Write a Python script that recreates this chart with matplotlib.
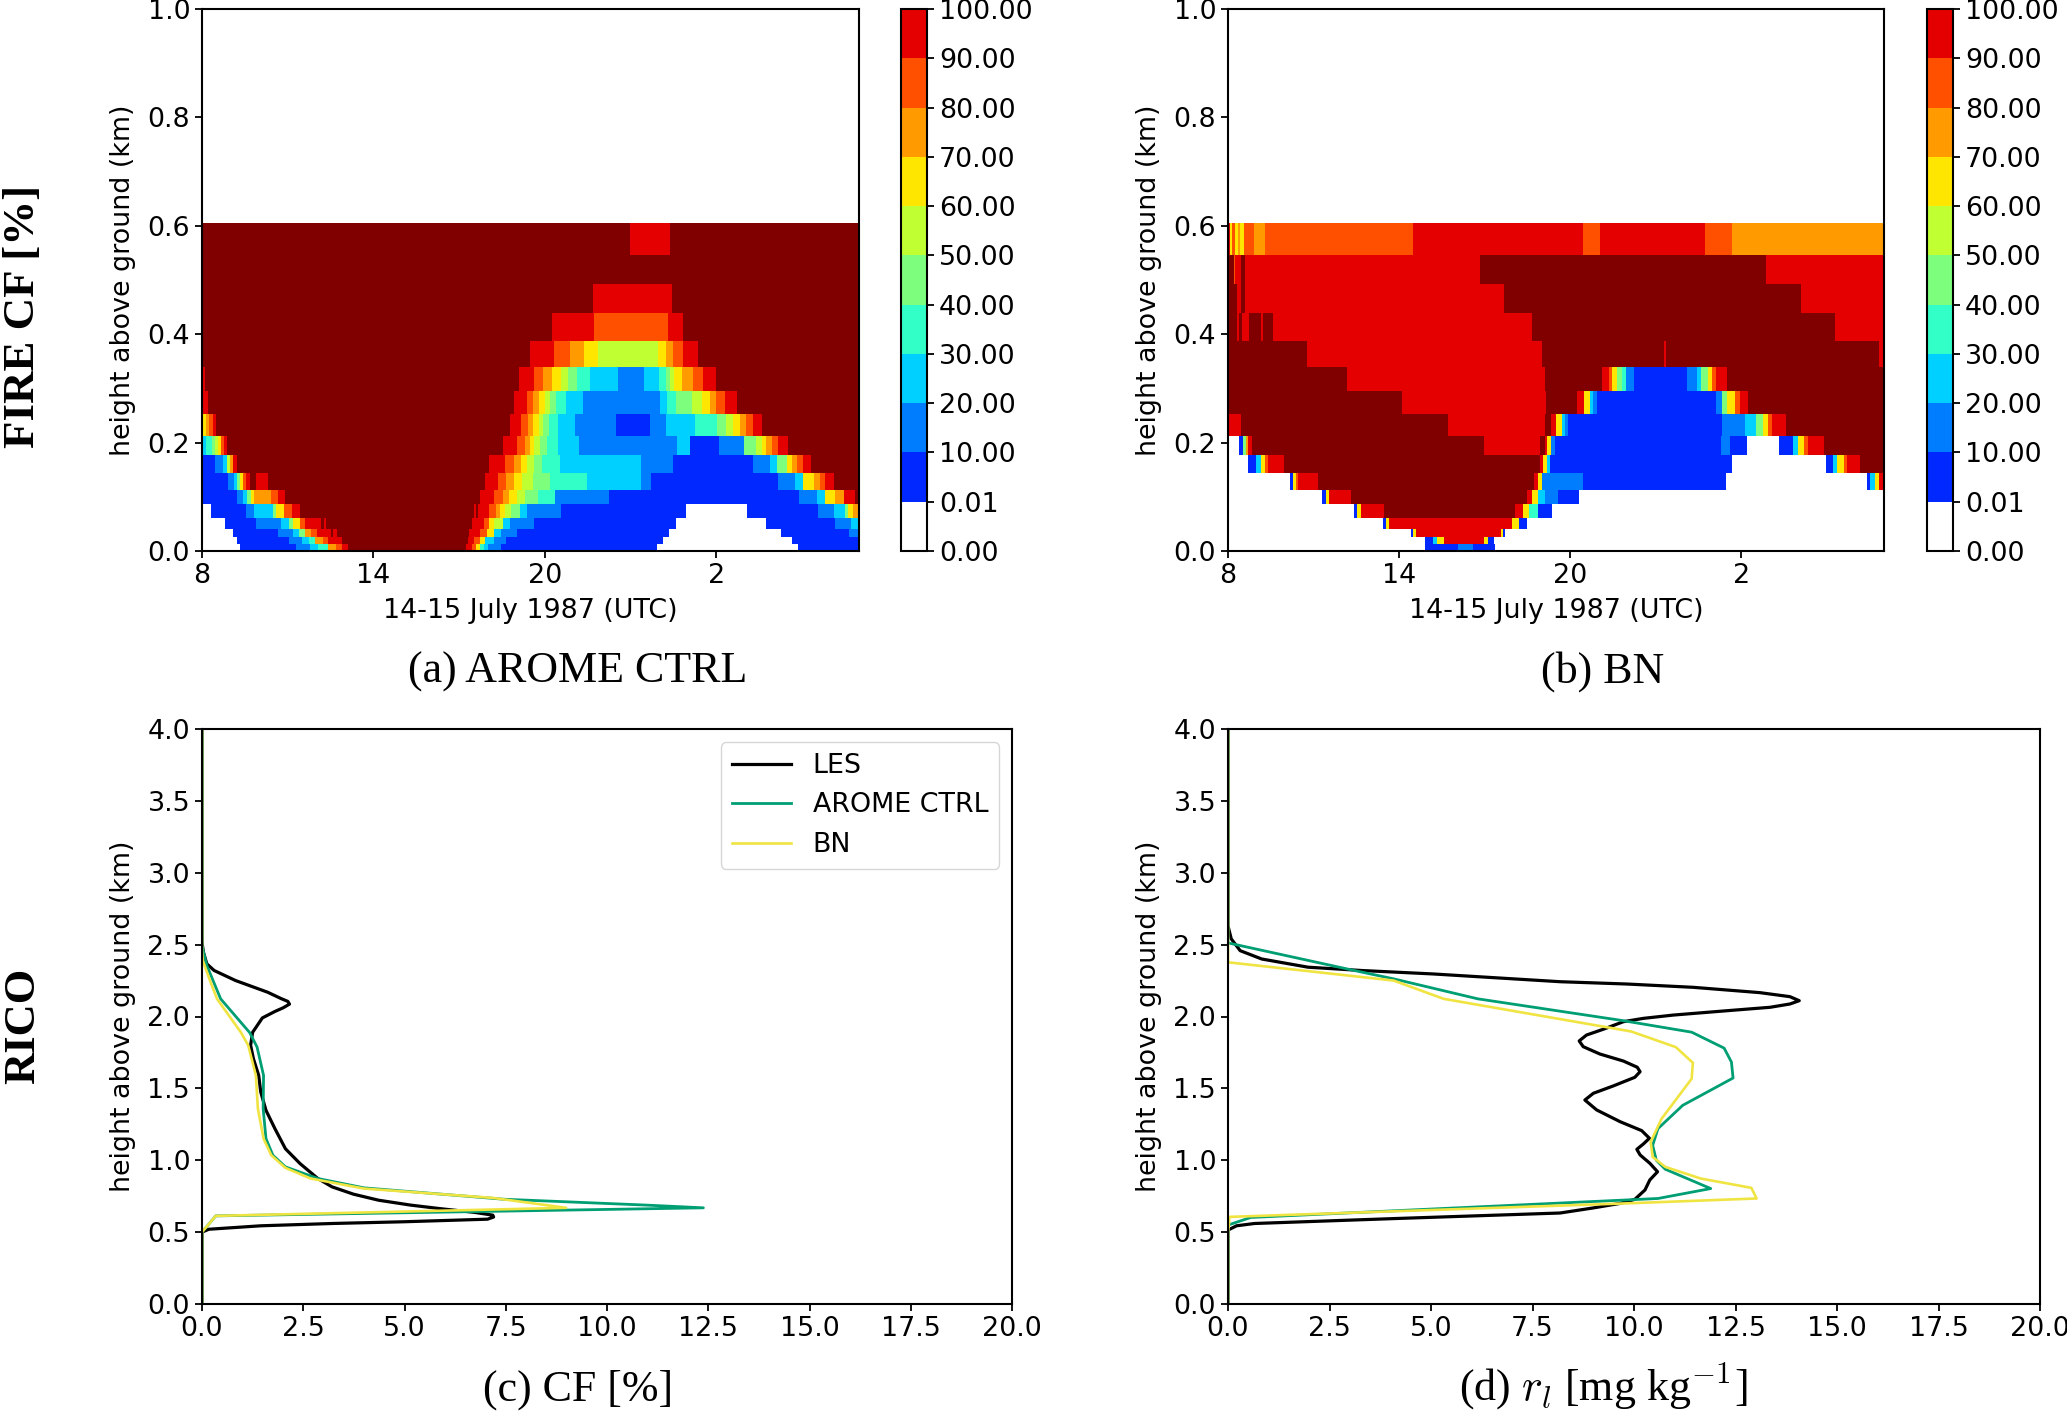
import numpy as np
import matplotlib
matplotlib.use('Agg')
import matplotlib.pyplot as plt
from matplotlib.colors import ListedColormap, BoundaryNorm

# 1. Nubi FIRE: celle per livello, dal basso verso l'alto, come (passo finale, CF %)
# 105 = copertura piena (colore "over" rosso scuro)
level_edges_km = [0, .0135, .026, .041, .0615, .087, .113, .143, .177, .213, .252, .295, .339, .388, .439, .492, .547, .6055]
steps_per_hour = 64.83
first_step_ctrl = 28
first_step_bn = 20

ctrl_rows = [
    [(115,0),(242,5),(272,15),(292,25),(313,35),(333,75),(345,85),(360,95),(628,105),(640,95),(650,85),(658,65),(668,35),(678,25),(706,15),(1060,5),(1380,0),(1520,5)],
    [(108,0),(225,5),(255,15),(270,25),(285,35),(302,75),(313,85),(345,95),(632,105),(645,95),(658,85),(670,65),(690,25),(718,15),(1075,5),(1367,0),(1520,5)],
    [(98,0),(200,5),(235,15),(248,25),(262,45),(276,75),(290,85),(320,95),(325,105),(335,95),(635,105),(660,95),(675,85),(690,65),(707,25),(742,15),(1088,5),(1342,0),(1497,5),(1520,15)],
    [(80,0),(150,5),(207,15),(225,25),(235,45),(250,65),(262,85),(298,95),(305,105),(310,95),(640,105),(668,95),(680,85),(690,65),(710,55),(728,25),(782,15),(1103,5),(1307,0),(1465,5),(1502,15),(1520,25)],
    [(48,0),(127,5),(147,15),(190,25),(197,45),(213,65),(232,85),(250,95),(645,105),(650,95),(655,105),(680,95),(695,85),(705,75),(715,65),(730,55),(750,45),(765,25),(842,15),(1126,5),(1265,0),(1427,5),(1463,15),(1487,25),(1495,45),(1505,65),(1520,75)],
    [(108,5),(120,15),(130,25),(140,45),(147,65),(185,75),(200,85),(216,95),(658,105),(690,95),(710,85),(725,75),(742,65),(762,55),(790,45),(830,35),(952,15),(1382,5),(1423,15),(1443,25),(1465,65),(1485,75),(1510,95),(1520,105)],
    [(86,5),(100,15),(108,25),(115,45),(120,65),(127,85),(137,95),(150,105),(178,95),(670,105),(700,95),(718,85),(737,75),(755,65),(780,55),(817,45),(902,35),(1025,25),(1047,15),(1335,5),(1373,15),(1392,25),(1418,65),(1430,75),(1442,85),(1462,95),(1520,105)],
    [(58,5),(76,15),(85,25),(92,55),(98,75),(108,95),(680,105),(716,95),(737,85),(752,75),(766,65),(782,55),(800,45),(841,35),(1025,25),(1098,15),(1278,5),(1318,15),(1332,25),(1355,45),(1368,65),(1378,75),(1392,85),(1410,95),(1520,105)],
    [(38,25),(50,35),(58,45),(65,55),(72,65),(78,85),(85,95),(710,105),(742,95),(760,85),(773,75),(782,65),(795,55),(810,45),(836,35),(883,25),(1107,15),(1135,25),(1202,5),(1258,15),(1285,45),(1298,55),(1308,65),(1322,75),(1335,85),(1357,95),(1520,105)],
    [(38,65),(44,75),(52,85),(60,95),(728,105),(752,95),(768,85),(780,75),(792,65),(803,55),(815,45),(835,35),(874,25),(968,15),(1044,5),(1082,15),(1148,25),(1196,35),(1217,45),(1232,55),(1250,65),(1262,75),(1278,85),(1300,95),(1520,105)],
    [(42,95),(735,105),(766,95),(780,85),(793,75),(806,65),(818,55),(832,45),(854,35),(892,25),(1068,15),(1084,25),(1104,35),(1140,45),(1162,55),(1180,65),(1195,75),(1215,85),(1243,95),(1520,105)],
    [(35,95),(747,105),(782,95),(803,85),(822,75),(842,65),(858,55),(880,45),(908,35),(971,25),(1031,15),(1066,25),(1080,35),(1090,45),(1100,55),(1117,65),(1143,75),(1164,85),(1195,95),(1520,105)],
    [(773,105),(827,95),(864,85),(895,75),(927,65),(1063,55),(1082,65),(1098,75),(1119,85),(1154,95),(1520,105)],
    [(823,105),(917,95),(1085,85),(1119,95),(1520,105)],
    [(915,105),(1094,95),(1520,105)],
    [(1520,105)],
    [(1000,105),(1091,95),(1520,105)],
]

bn_rows = [
    [(467,0),(543,5),(577,15),(627,5),(1510,0)],
    [(467,0),(485,5),(495,25),(510,65),(603,95),(612,65),(625,5),(1510,0)],
    [(435,0),(440,5),(447,65),(640,95),(645,65),(650,5),(1510,0)],
    [(372,0),(380,5),(387,65),(666,95),(682,65),(700,5),(1510,0)],
    [(306,0),(314,5),(322,65),(375,95),(672,105),(690,95),(705,65),(725,35),(757,5),(1510,0)],
    [(233,0),(242,5),(250,65),(300,95),(700,105),(712,95),(725,65),(740,25),(770,15),(817,5),(1510,0)],
    [(160,0),(168,5),(175,65),(180,85),(224,95),(716,105),(725,95),(733,65),(827,15),(1152,5),(1472,0),(1480,5),(1490,25),(1500,65),(1510,95)],
    [(66,0),(84,5),(95,25),(105,65),(112,85),(148,95),(730,105),(735,95),(745,65),(752,25),(1165,5),(1380,0),(1396,5),(1405,25),(1420,65),(1426,85),(1456,95),(1510,105)],
    [(46,0),(54,5),(60,45),(65,75),(75,95),(602,105),(730,95),(740,105),(745,95),(755,65),(764,15),(1140,5),(1160,15),(1200,5),(1273,0),(1305,5),(1315,25),(1330,65),(1338,85),(1374,95),(1510,105)],
    [(50,95),(520,105),(740,95),(755,105),(765,95),(780,65),(785,25),(792,15),(1143,5),(1196,15),(1220,25),(1235,45),(1248,65),(1257,85),(1288,95),(1510,105)],
    [(415,105),(742,95),(814,105),(830,95),(842,65),(850,25),(858,15),(1130,5),(1143,15),(1155,45),(1172,65),(1184,85),(1202,95),(1510,105)],
    [(290,105),(740,95),(870,105),(887,95),(893,85),(905,65),(915,45),(925,35),(943,15),(1063,5),(1085,15),(1095,25),(1110,45),(1120,65),(1130,85),(1155,95),(1510,105)],
    [(200,105),(733,95),(1010,105),(1016,95),(1500,105),(1510,95)],
    [(40,105),(46,95),(52,105),(68,95),(96,105),(100,95),(122,105),(710,95),(1400,105),(1510,95)],
    [(40,105),(50,95),(58,105),(647,95),(1323,105),(1510,95)],
    [(33,105),(36,85),(50,95),(58,105),(593,95),(1243,105),(1510,95)],
    [(24,95),(30,65),(36,85),(42,65),(48,75),(56,65),(78,85),(103,75),(441,85),(827,95),(865,85),(1104,95),(1165,85),(1510,75)],
]

# 2. Profili RICO: (valore, quota in km)
cf_z_les = [0, .5, .52, .544, .56, .572, .59, .605, .618, .637, .664, .688, .722, .764, .815, .873, .977, 1.08, 1.22, 1.347, 1.475, 1.59, 1.706, 1.80, 1.89, 1.99, 2.035, 2.06, 2.086, 2.105, 2.125, 2.169, 2.25, 2.32, 2.366, 2.447, 2.516, 4]
cf_les = [0, 0, .17, 1.45, 3.21, 4.97, 7.05, 7.2, 7.18, 6.74, 5.86, 5.15, 4.36, 3.74, 3.21, 2.86, 2.42, 2.06, 1.80, 1.58, 1.45, 1.40, 1.27, 1.20, 1.25, 1.49, 1.80, 2.0, 2.16, 2.12, 1.95, 1.62, .83, .30, .12, .035, 0, 0]
cf_z_ctrl = [0, .5, .613, .669, .688, .729, .808, .873, .954, 1.035, 1.15, 1.359, 1.59, 1.787, 1.887, 2.123, 2.354, 2.493, 4]
cf_ctrl = [0, 0, .34, 12.38, 10.97, 7.44, 4.0, 2.86, 2.06, 1.75, 1.58, 1.51, 1.52, 1.36, 1.18, .46, .12, 0, 0]
cf_z_bn = [0, .5, .613, .669, .688, .738, .803, .873, .947, 1.035, 1.15, 1.359, 1.59, 1.80, 1.89, 2.123, 2.24, 2.389, 2.45, 4]
cf_bn = [0, 0, .34, 8.99, 8.5, 7.18, 4.0, 2.68, 2.06, 1.71, 1.52, 1.38, 1.33, 1.14, .96, .37, .21, .02, 0, 0]

rl_z_les = [0, .49, .514, .544, .56, .595, .633, .668, .70, .728, .793, .863, .92, .979, 1.037, 1.076, 1.113, 1.153, 1.206, 1.268, 1.35, 1.419, 1.466, 1.517, 1.577, 1.616, 1.647, 1.69, 1.739, 1.79, 1.83, 1.871, 1.911, 1.964, 1.987, 2.01, 2.04, 2.064, 2.087, 2.11, 2.138, 2.166, 2.203, 2.226, 2.242, 2.296, 2.32, 2.343, 2.4, 2.458, 2.54, 2.63, 4]
rl_les = [0, 0, 0, .21, .65, 4.17, 8.18, 8.99, 9.66, 10.02, 10.27, 10.39, 10.58, 10.39, 10.15, 10.07, 10.23, 10.38, 10.19, 9.66, 9.08, 8.79, 9.0, 9.49, 10.02, 10.15, 10.08, 9.74, 9.16, 8.75, 8.65, 8.83, 9.24, 9.74, 10.23, 10.97, 12.28, 13.35, 13.84, 14.07, 13.84, 13.1, 11.46, 9.82, 8.18, 5.05, 3.29, 1.97, .83, .30, .08, 0, 0]
rl_z_ctrl = [0, .5, .549, .602, .734, .803, .9375, 1.0, 1.104, 1.22, 1.382, 1.572, 1.683, 1.78, 1.891, 1.972, 2.123, 2.262, 2.32, 2.512, 4]
rl_ctrl = [0, 0, 0, .56, 10.59, 11.89, 10.77, 10.55, 10.46, 10.59, 11.2, 12.44, 12.4, 12.22, 11.42, 9.71, 6.15, 4.08, 3.11, 0, 0]
rl_z_bn = [0, .5, .572, .606, .699, .734, .808, .873, .954, 1.023, 1.127, 1.289, 1.567, 1.678, 1.787, 1.896, 2.123, 2.25, 2.377, 4]
rl_bn = [0, 0, .03, .03, 9.71, 13.02, 12.89, 11.64, 10.77, 10.46, 10.41, 10.68, 11.42, 11.45, 11.03, 9.93, 5.31, 4.08, 0, 0]

time_ticks = [8, 14, 20, 26]
time_labels = ['8', '14', '20', '2']
cf_levels = [0, 0.01, 10, 20, 30, 40, 50, 60, 70, 80, 90, 100]
cf_colors = ['#ffffff', '#0028ff', '#007dff', '#00d0ff', '#32ffc8', '#7dff7d',
             '#c0ff32', '#ffe600', '#ff9b00', '#ff5000', '#e40000']

W, H = 2067, 1412
plt.rcParams['font.size'] = 19.4
plt.rcParams['axes.linewidth'] = 1.5
plt.rcParams['xtick.major.size'] = 5
plt.rcParams['ytick.major.size'] = 5
plt.rcParams['xtick.major.width'] = 1.3
plt.rcParams['ytick.major.width'] = 1.3
plt.rcParams['mathtext.fontset'] = 'cm'

cmap = ListedColormap(cf_colors)
cmap.set_over('#800000')
norm = BoundaryNorm(cf_levels, cmap.N)

fig = plt.figure(figsize=(W / 100, H / 100), dpi=100)


def add_axes_px(left, top, right, bottom):
    return fig.add_axes([left / W, 1 - bottom / H, (right - left) / W, (bottom - top) / H])


def draw_field(ax, cax, rows, first_step):
    last_step = rows[0][-1][0]
    steps = np.arange(first_step, last_step + 1)
    cf = np.zeros((len(rows), last_step - first_step))
    for i, row in enumerate(rows):
        start = first_step
        for end, value in row:
            cf[i, start - first_step:end - first_step] = value
            start = end
    hours = 8 + (steps - first_step) / steps_per_hour
    mesh = ax.pcolormesh(hours, level_edges_km, cf, cmap=cmap, norm=norm, rasterized=True)
    ax.set_xlim(8, 31)
    ax.set_ylim(0, 1)
    ax.set_xticks(time_ticks)
    ax.set_xticklabels(time_labels)
    ax.set_yticks(np.arange(0, 1.01, 0.2))
    ax.set_xlabel('14-15 July 1987 (UTC)', labelpad=6.5)
    ax.set_ylabel('height above ground (km)', labelpad=8)
    cb = fig.colorbar(mesh, cax=cax, ticks=cf_levels, format='%.2f')
    cb.ax.tick_params(pad=3.5)


def draw_profiles(ax, les, ctrl, bn):
    ax.plot(les[1], les[0], color='black', lw=2.3, label='LES')
    ax.plot(ctrl[1], ctrl[0], color='#009E73', lw=2.0, label='AROME CTRL')
    ax.plot(bn[1], bn[0], color='#F0E442', lw=1.9, label='BN')
    ax.set_xlim(0, 20)
    ax.set_ylim(0, 4)
    ax.set_xticks(np.arange(0, 20.1, 2.5))
    ax.set_yticks(np.arange(0, 4.01, 0.5))
    ax.set_ylabel('height above ground (km)', labelpad=8)


draw_field(add_axes_px(202, 9, 859, 551), add_axes_px(901, 9, 927, 551), ctrl_rows, first_step_ctrl)
draw_field(add_axes_px(1228, 9, 1884, 551), add_axes_px(1927, 9, 1953, 551), bn_rows, first_step_bn)

ax_c = add_axes_px(202, 729, 1012, 1304)
draw_profiles(ax_c, (cf_z_les, cf_les), (cf_z_ctrl, cf_ctrl), (cf_z_bn, cf_bn))
ax_c.legend(loc='upper right', bbox_to_anchor=(0.984, 0.977), borderaxespad=0, handlelength=2.2,
            borderpad=0.4)

ax_d = add_axes_px(1228, 729, 2040, 1304)
draw_profiles(ax_d, (rl_z_les, rl_les), (rl_z_ctrl, rl_ctrl), (rl_z_bn, rl_bn))

# Didascalie in serif, come nell'articolo
serif = 'Liberation Serif'
captions = ['(a) AROME CTRL', '(b) BN', '(c) CF [%]', r'(d) $r_l$ [mg kg$^{-1}$]']
caption_xy = [(578, 683), (1603, 683), (578, 1401), (1603, 1401)]
for text, (x, y) in zip(captions, caption_xy):
    fig.text(x / W, 1 - y / H, text, family=serif, fontsize=31.7, ha='center', va='baseline')
fig.text(23 / W, 1 - 316 / H, 'FIRE CF [%]', family=serif, fontsize=32.3, fontweight='bold',
         rotation=90, ha='center', va='center')
fig.text(23 / W, 1 - 1026 / H, 'RICO', family=serif, fontsize=32, fontweight='bold',
         rotation=90, ha='center', va='center')

fig.savefig('out.png', dpi=100)
